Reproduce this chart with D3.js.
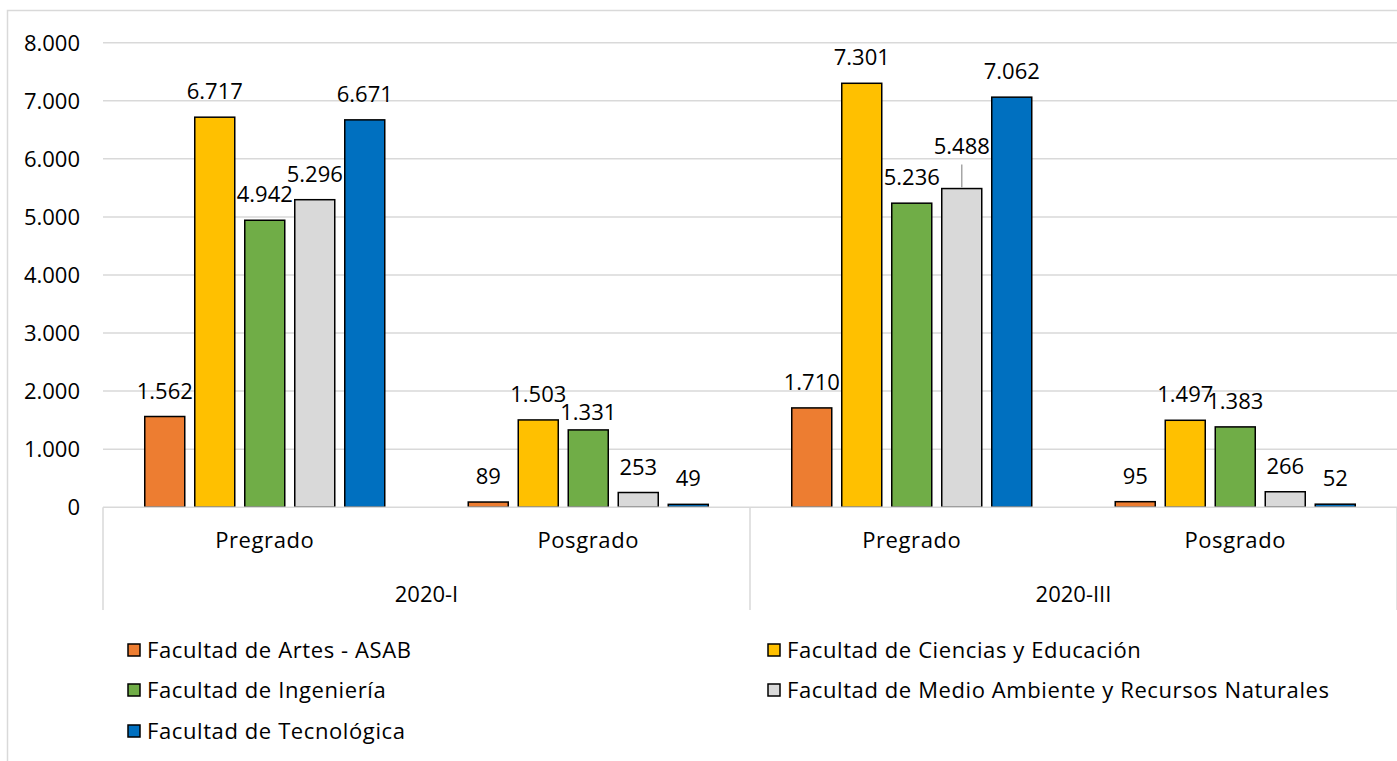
<!DOCTYPE html>
<html>
<head>
<meta charset="utf-8">
<script src="https://cdn.jsdelivr.net/npm/d3@7"></script>
<style>
  html, body { margin: 0; padding: 0; background: #fff; }
  svg { display: block; }
  text { font-family: "Open Sans", "Noto Sans", sans-serif; fill: #000; }
</style>
</head>
<body>
<svg id="chart" width="1397" height="761"></svg>
<script>
// ---- data ----
const periods = ["2020-I", "2020-III"];
const levels = ["Pregrado", "Posgrado"];
const seriesNames = [
  "Facultad de Artes - ASAB",
  "Facultad de Ciencias y Educación",
  "Facultad de Ingeniería",
  "Facultad de Medio Ambiente y Recursos Naturales",
  "Facultad de Tecnológica"
];
const seriesColors = ["#ED7D31", "#FFC000", "#70AD47", "#D9D9D9", "#0070C0"];
// values in order: 2020-I Pregrado, 2020-I Posgrado, 2020-III Pregrado, 2020-III Posgrado
const artes       = [1562,   89, 1710,   95];
const ciencias    = [6717, 1503, 7301, 1497];
const ingenieria  = [4942, 1331, 5236, 1383];
const medio       = [5296,  253, 5488,  266];
const tecnologica = [6671,   49, 7062,   52];
const yTicks = [0, 1000, 2000, 3000, 4000, 5000, 6000, 7000, 8000];

const seriesValues = [artes, ciencias, ingenieria, medio, tecnologica];
const categories = [];
periods.forEach(p => levels.forEach(l => categories.push({period: p, level: l, key: p + "|" + l})));

// label adjustments (Excel-style collision nudges), in px
const labelShift = {"1|2": 8, "2|3": -17};
const leaderLines = {"2|3": true};

const loc = d3.formatLocale({decimal: ",", thousands: ".", grouping: [3], currency: ["$", ""]});
const fmt = loc.format(",d");

const FS = 22;
const LS = "0.6px";

const svg = d3.select("#chart");
const plotLeft = 103, plotRight = 1397, plotTop = 42.7, plotBottom = 507.2;

// outer border
svg.append("rect").attr("x", 7.5).attr("y", 10.5).attr("width", 1400).attr("height", 800)
  .attr("fill", "#fff").attr("stroke", "#D9D9D9").attr("stroke-width", 1.5);

const y = d3.scaleLinear().domain([0, 8000]).range([plotBottom, plotTop]);
const x0 = d3.scaleBand().domain(categories.map(c => c.key)).range([plotLeft, plotRight]);
const x1 = d3.scaleBand().domain(seriesNames).range([0, x0.bandwidth()]).paddingInner(0.2).paddingOuter(0.835);

// gridlines
svg.append("g").selectAll("line").data(yTicks.filter(t => t > 0)).join("line")
  .attr("x1", plotLeft).attr("x2", plotRight)
  .attr("y1", d => y(d)).attr("y2", d => y(d))
  .attr("stroke", "#D9D9D9").attr("stroke-width", 1.5);

// y axis labels
const yAxis = d3.axisLeft(y).tickValues(yTicks).tickFormat(fmt).tickSize(0).tickPadding(0);
const gy = svg.append("g").attr("transform", `translate(80,0)`).call(yAxis);
gy.select(".domain").remove();
gy.selectAll("text").attr("font-size", FS).attr("font-family", "Open Sans").attr("fill", "#000").attr("dy", "0.35em");

// bars
const groups = svg.append("g").selectAll("g").data(categories).join("g")
  .attr("transform", d => `translate(${x0(d.key)},0)`);

groups.each(function(cat, ci) {
  const g = d3.select(this);
  const data = seriesNames.map((s, si) => ({s, si, v: seriesValues[si][ci]}));
  g.selectAll("rect").data(data).join("rect")
    .attr("x", d => x1(d.s))
    .attr("width", x1.bandwidth())
    .attr("y", d => y(d.v))
    .attr("height", d => y(0) - y(d.v))
    .attr("fill", d => seriesColors[d.si])
    .attr("stroke", "#000").attr("stroke-width", 1.5);
  data.forEach(d => {
    const k = ci + "|" + d.si;
    const shift = labelShift[k] || 0;
    const cx = x1(d.s) + x1.bandwidth() / 2;
    const by = y(d.v) - 18 + shift;
    g.append("text").attr("x", cx).attr("y", by)
      .attr("text-anchor", "middle").attr("font-size", FS).text(fmt(d.v));
    if (leaderLines[k]) {
      g.append("line").attr("x1", cx).attr("x2", cx)
        .attr("y1", by + 11).attr("y2", y(d.v) - 1)
        .attr("stroke", "#A6A6A6").attr("stroke-width", 1.5);
    }
  });
});

// category axis
const axisG = svg.append("g");
axisG.append("line").attr("x1", plotLeft).attr("x2", plotRight)
  .attr("y1", plotBottom).attr("y2", plotBottom)
  .attr("stroke", "#D9D9D9").attr("stroke-width", 1.5);
const periodBounds = periods.map(p => {
  const keys = categories.filter(c => c.period === p).map(c => c.key);
  return {p, x0: x0(keys[0]), x1: x0(keys[keys.length - 1]) + x0.bandwidth()};
});
const dividers = [plotLeft].concat(periodBounds.map(b => b.x1));
axisG.selectAll("line.div").data(dividers).join("line").attr("class", "div")
  .attr("x1", d => d).attr("x2", d => d)
  .attr("y1", plotBottom).attr("y2", 610)
  .attr("stroke", "#D9D9D9").attr("stroke-width", 1.5);
axisG.selectAll("text.lvl").data(categories).join("text").attr("class", "lvl")
  .attr("x", d => x0(d.key) + x0.bandwidth() / 2).attr("y", 548)
  .attr("text-anchor", "middle").attr("font-size", FS).attr("letter-spacing", LS).text(d => d.level);
axisG.selectAll("text.per").data(periodBounds).join("text").attr("class", "per")
  .attr("x", d => (d.x0 + d.x1) / 2).attr("y", 602)
  .attr("text-anchor", "middle").attr("font-size", FS).text(d => d.p);

// legend
const legendPos = [[128, 650], [768, 650], [128, 690], [768, 690], [128, 731]];
const lg = svg.append("g").selectAll("g").data(seriesNames).join("g")
  .attr("transform", (d, i) => `translate(${legendPos[i][0]},${legendPos[i][1]})`);
lg.append("rect").attr("x", 0).attr("y", -6).attr("width", 12).attr("height", 12)
  .attr("fill", (d, i) => seriesColors[i]).attr("stroke", "#000").attr("stroke-width", 1.5);
lg.append("text").attr("x", 19).attr("y", 0).attr("dy", "0.35em")
  .attr("font-size", FS).attr("letter-spacing", LS).text(d => d);
</script>
</body>
</html>
